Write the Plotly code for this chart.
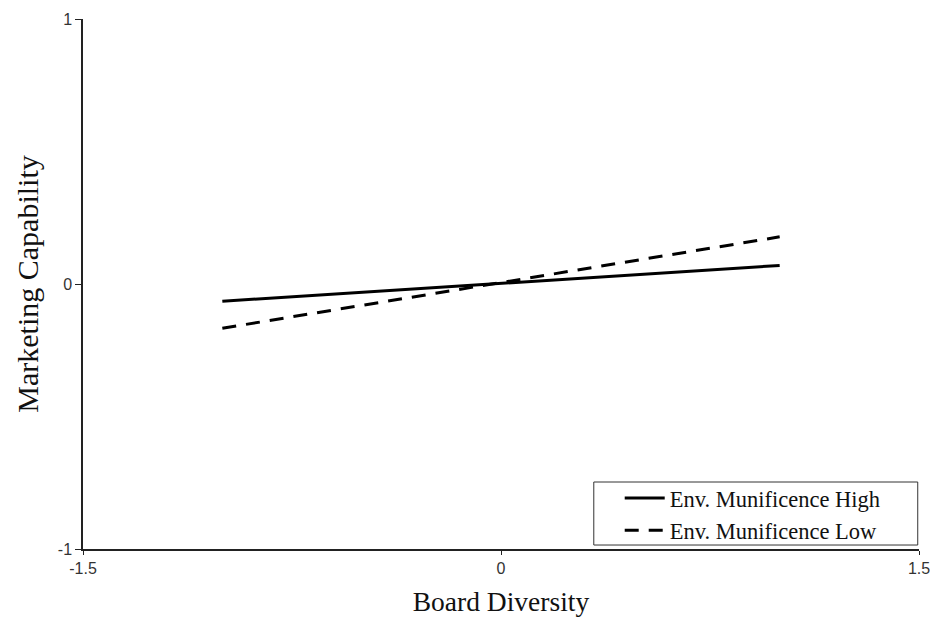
import plotly.graph_objects as go

board_diversity = [-1, 1]
munificence_high = [-0.065, 0.070]
munificence_low = [-0.167, 0.178]
series_names = ["Env. Munificence High", "Env. Munificence Low"]
x_ticks = [-1.5, 0, 1.5]
x_tick_labels = ["-1.5", "0", "1.5"]
y_ticks = [-1, 0, 1]
y_tick_labels = ["-1", "0", "1"]

fig = go.Figure()
fig.add_trace(go.Scatter(x=board_diversity, y=munificence_high, mode="lines",
                         name=series_names[0],
                         line=dict(color="black", width=3)))
fig.add_trace(go.Scatter(x=board_diversity, y=munificence_low, mode="lines",
                         name=series_names[1],
                         line=dict(color="black", width=3, dash="14px,10px")))

# legend frame
fig.add_shape(type="rect", xref="paper", yref="paper",
              x0=0.611, x1=0.9985, y0=0.0075, y1=0.1264,
              line=dict(color="#333", width=1), fillcolor="white", layer="below")

fig.update_layout(
    width=930, height=619,
    margin=dict(l=83, r=11, t=19, b=70, autoexpand=False),
    paper_bgcolor="white", plot_bgcolor="white",
    showlegend=True,
    legend=dict(x=0.642, xanchor="left", y=0.136, yanchor="top",
                borderwidth=0, bgcolor="rgba(0,0,0,0)",
                font=dict(family="Liberation Serif", size=22.5, color="#111"),
                tracegroupgap=0, itemwidth=40),
    xaxis=dict(range=[-1.5, 1.5], tickvals=x_ticks, ticktext=x_tick_labels,
               showgrid=False, zeroline=False, showline=True, linecolor="#222",
               linewidth=1.5, ticks="outside", ticklen=4, tickcolor="#222",
               automargin=False, ticklabeloverflow="allow",
               tickfont=dict(family="Liberation Sans", size=16, color="#333"),
               title=dict(text="Board Diversity", standoff=16,
                          font=dict(family="Liberation Serif", size=27.5, color="#111"))),
    yaxis=dict(range=[-1, 1], tickvals=y_ticks, ticktext=y_tick_labels,
               showgrid=False, zeroline=False, showline=True, linecolor="#222",
               linewidth=1.5, ticks="outside", ticklen=6, tickcolor="#222",
               automargin=False, ticklabeloverflow="allow",
               tickfont=dict(family="Liberation Sans", size=16, color="#333"),
               title=dict(text="Marketing Capability", standoff=10,
                          font=dict(family="Liberation Serif", size=30, color="#111"))),
)

fig.write_html("out.html",
               config={"displayModeBar": False},
               post_script="document.body.style.margin='0';document.body.style.overflow='hidden';")
